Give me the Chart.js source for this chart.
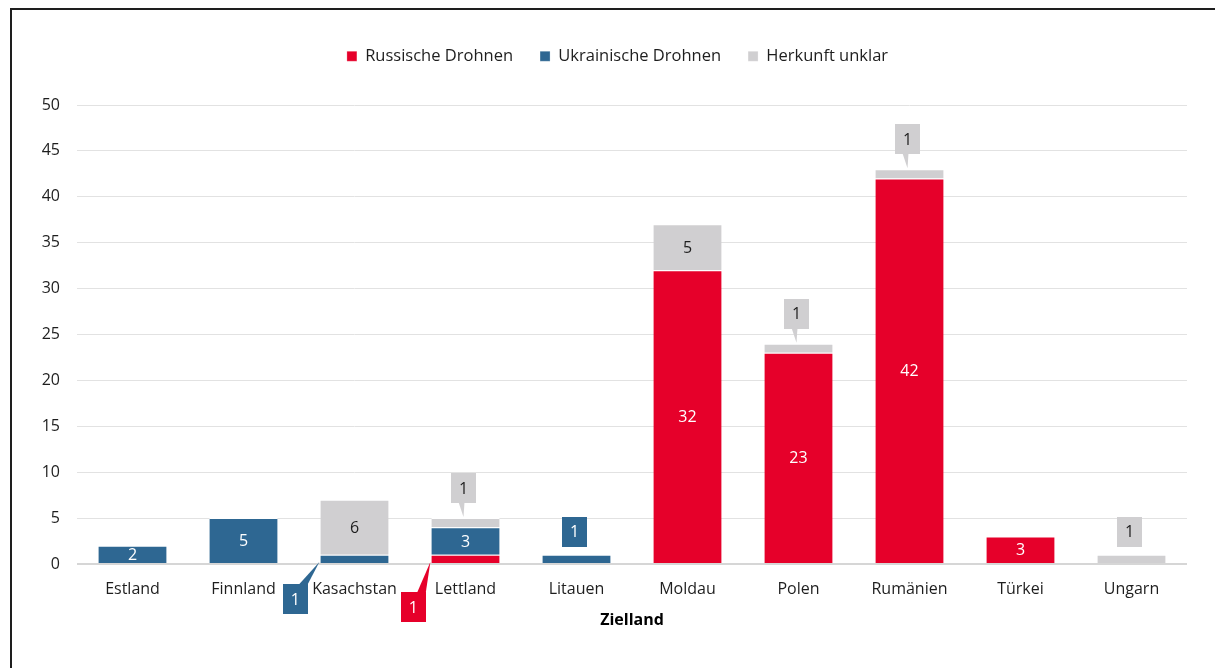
<!DOCTYPE html>
<html lang="de">
<head>
<meta charset="utf-8">
<title>Drohnen nach Zielland</title>
<script src="https://cdn.jsdelivr.net/npm/chart.js@4.4.1/dist/chart.umd.min.js"></script>
<style>
  html, body { margin: 0; padding: 0; background: #fff; }
  #wrap { position: relative; width: 1215px; height: 668px; overflow: hidden; }
  #frame { position: absolute; left: 10px; top: 8px; width: 1300px; height: 800px;
           border-top: 2px solid #1e1e1e; border-left: 2px solid #1e1e1e; }
  #chart { position: absolute; left: 0; top: 0; }
</style>
</head>
<body>
<div id="wrap">
  <div id="frame"></div>
  <canvas id="chart" width="1215" height="668"></canvas>
</div>
<script>
// --- Data ---
const countries = ['Estland', 'Finnland', 'Kasachstan', 'Lettland', 'Litauen', 'Moldau', 'Polen', 'Rumänien', 'Türkei', 'Ungarn'];
const russianDrones   = [null, null, null, 1, null, 32, 23, 42, 3, null];
const ukrainianDrones = [2, 5, 1, 3, 1, null, null, null, null, null];
const unclearOrigin   = [null, null, 6, 1, null, 5, 1, 1, null, 1];
const seriesNames = ['Russische Drohnen', 'Ukrainische Drohnen', 'Herkunft unklar'];
const axisTitle = 'Zielland';
const yMax = 50;
const yStep = 5;

// --- Look ---
const RED = '#e6002a';
const BLUE = '#2e6792';
const GREY = '#d0cfd1';
const INK = '#1e1e1e';
const FONT = '"Open Sans", "Noto Sans", sans-serif';

// small segments get a callout box instead of an inside label
const belowLeftOffset = { 'Ukrainische Drohnen': [25, 36], 'Russische Drohnen': [18, 44] };

function calloutBox(ctx, cx, cy, fill, ink, text) {
  ctx.fillStyle = fill;
  ctx.fillRect(Math.round(cx - 12.5), Math.round(cy - 15), 25, 30);
  ctx.fillStyle = ink;
  ctx.fillText(text, cx, cy + 1);
}

const valueLabels = {
  id: 'valueLabels',
  beforeLayout(chart) {
    // leave room below the legend like the original layout, nudge it right a bit
    const lg = chart.legend;
    if (lg && !lg._patched) {
      const fit = lg.fit;
      lg.fit = function () { fit.call(this); this.height = 84; };
      const draw = lg.draw;
      lg.draw = function () {
        this.ctx.save();
        this.ctx.translate(6, 0);
        draw.call(this);
        this.ctx.restore();
      };
      lg._patched = true;
    }
  },
  afterDatasetsDraw(chart) {
    const ctx = chart.ctx;
    const sets = chart.data.datasets;
    ctx.save();
    ctx.font = '16px ' + FONT;
    ctx.textAlign = 'center';
    ctx.textBaseline = 'middle';
    chart.data.labels.forEach((_, i) => {
      let topDs = -1, count = 0;
      sets.forEach((ds, d) => { if (ds.data[i]) { topDs = d; count++; } });
      sets.forEach((ds, d) => {
        const v = ds.data[i];
        if (!v) return;
        const bar = chart.getDatasetMeta(d).data[i];
        const fill = ds.backgroundColor;
        const ink = ds.labelColor;
        const h = bar.base - bar.y;
        if (h >= 15) {
          ctx.fillStyle = ink;
          ctx.fillText(String(v), bar.x, (bar.y + bar.base) / 2 + 1);
        } else if (d === topDs) {
          const withPointer = count > 1;
          const cx = bar.x - 2;
          const bottom = bar.y - (withPointer ? 15 : 8);
          const cy = bottom - 15;
          if (withPointer) {
            ctx.fillStyle = fill;
            ctx.beginPath();
            ctx.moveTo(cx - 5, bottom - 1);
            ctx.lineTo(cx + 1, bottom - 1);
            ctx.lineTo(cx, bar.y - 1);
            ctx.closePath();
            ctx.fill();
          }
          calloutBox(ctx, cx, cy, fill, ink, String(v));
        } else {
          const off = belowLeftOffset[ds.label] || [22, 40];
          const left = bar.x - bar.width / 2;
          const cx = left - off[0];
          const cy = bar.base + off[1];
          ctx.fillStyle = fill;
          ctx.beginPath();
          ctx.moveTo(cx + 4, cy - 15);
          ctx.lineTo(cx + 12.5, cy - 15);
          ctx.lineTo(left - 1, bar.base - 1);
          ctx.closePath();
          ctx.fill();
          calloutBox(ctx, cx, cy, fill, ink, String(v));
        }
      });
    });
    ctx.restore();
  }
};

Chart.defaults.font.family = FONT;
Chart.defaults.font.size = 16;
Chart.defaults.color = INK;

const segBorder = { top: 1, right: 0, bottom: 0, left: 0 };

new Chart(document.getElementById('chart'), {
  type: 'bar',
  data: {
    labels: countries,
    datasets: [
      { label: seriesNames[0], data: russianDrones, backgroundColor: RED, labelColor: '#ffffff',
        borderColor: '#ffffff', borderWidth: segBorder, borderSkipped: false },
      { label: seriesNames[1], data: ukrainianDrones, backgroundColor: BLUE, labelColor: '#ffffff',
        borderColor: '#ffffff', borderWidth: segBorder, borderSkipped: false },
      { label: seriesNames[2], data: unclearOrigin, backgroundColor: GREY, labelColor: INK,
        borderColor: '#ffffff', borderWidth: segBorder, borderSkipped: false }
    ]
  },
  options: {
    responsive: false,
    animation: false,
    layout: { padding: { top: 21, left: 36, right: 28, bottom: 0 } },
    datasets: { bar: { categoryPercentage: 1, barPercentage: 0.615 } },
    plugins: {
      legend: {
        position: 'top',
        labels: { boxWidth: 10, boxHeight: 10, padding: 27, color: INK, font: { size: 16.5 } }
      },
      tooltip: { enabled: false }
    },
    scales: {
      x: {
        stacked: true,
        grid: { display: false },
        border: { display: false },
        ticks: { padding: 8, color: INK, font: { size: 16 } },
        title: { display: true, text: axisTitle, color: '#000', font: { size: 16, weight: 'bold' },
                 padding: { top: 4, bottom: 38 } },
        afterFit: s => { s.height = 104; }
      },
      y: {
        stacked: true,
        min: 0,
        max: yMax,
        border: { display: false },
        grid: {
          drawTicks: false,
          color: c => c.tick && c.tick.value === 0 ? '#d6d6d6' : '#e2e2e2',
          lineWidth: c => c.tick && c.tick.value === 0 ? 2 : 1
        },
        ticks: { stepSize: yStep, padding: 17, color: INK, font: { size: 16 } },
        afterFit: s => { s.width = 41; }
      }
    }
  },
  plugins: [valueLabels]
});
</script>
</body>
</html>
